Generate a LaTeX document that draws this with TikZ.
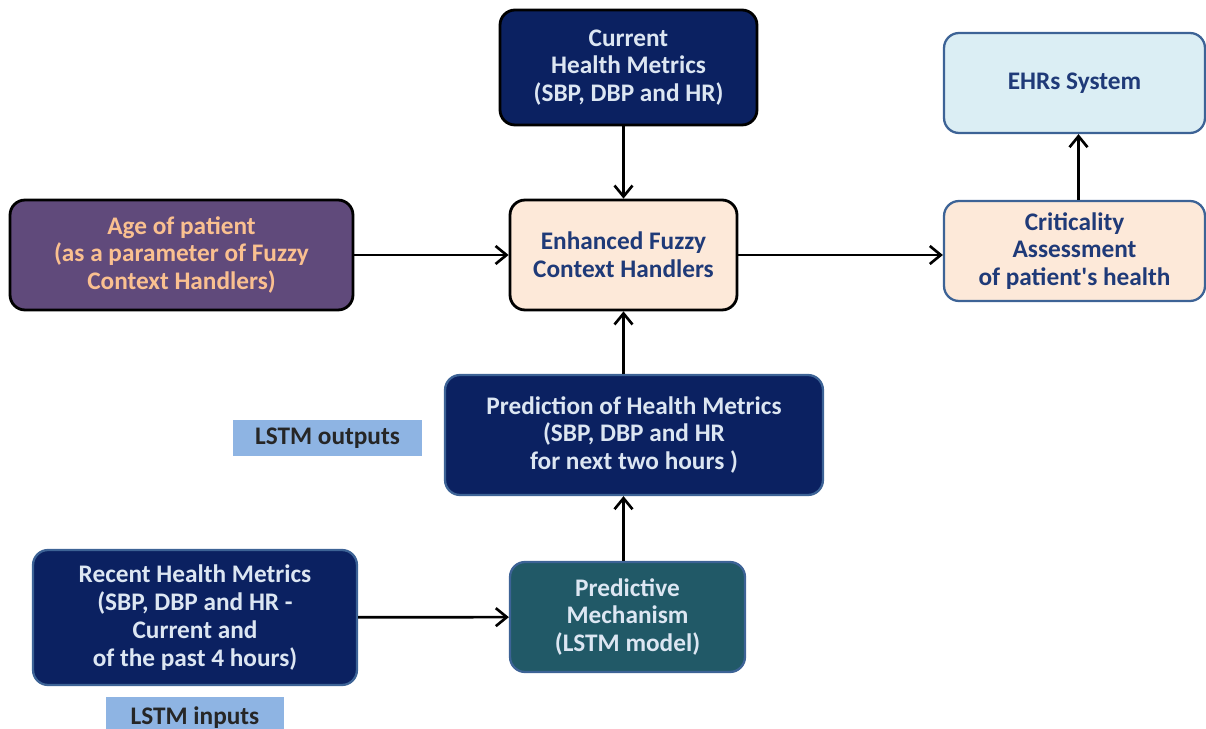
\documentclass[tikz,border=0pt]{standalone}
\usepackage{fontspec}
\setmainfont{Carlito}
\usepackage{tikz}
\usetikzlibrary{arrows.meta,positioning}
\definecolor{navybox}{HTML}{0B2161}
\definecolor{navytext}{HTML}{DCE6F2}
\definecolor{purplebox}{HTML}{604A7B}
\definecolor{peachtext}{HTML}{FAC090}
\definecolor{peachbox}{HTML}{FDE9D9}
\definecolor{darktext}{HTML}{1F3A78}
\definecolor{ehrbox}{HTML}{DBEEF4}
\definecolor{blueline}{HTML}{3D6396}
\definecolor{tealbox}{HTML}{215967}
\definecolor{lstmfill}{HTML}{8EB4E3}

\tikzset{
  box/.style={rectangle, rounded corners=0.3cm, align=center, font=\fontsize{14.4}{15.8}\selectfont\bfseries, inner sep=2pt},
  darkbox/.style={box, draw=black, line width=1.6pt},
  bluebox/.style={box, draw=blueline, line width=1.3pt},
  lstmtag/.style={rectangle, fill=lstmfill, font=\fontsize{14.4}{15.8}\selectfont\bfseries, text=black!85},
  flow/.style={-{Straight Barb[length=2.2mm,width=3.6mm]}, line width=1.5pt, black}
}

\begin{document}
\begin{tikzpicture}[x=0.02cm, y=-0.02cm]
	\useasboundingbox (0,0) rectangle (1206,729);
	% top row
	\node[darkbox, fill=navybox, text=navytext, minimum width=5.14cm, minimum height=2.30cm] (cur) at (628.5,67.5) {Current\\Health Metrics\\(SBP, DBP and HR)};
	\node[bluebox, fill=ehrbox, text=darktext, minimum width=5.22cm, minimum height=2.00cm] (ehr) at (1074.5,83) {EHRs System};
	% middle row
	\node[darkbox, fill=purplebox, text=peachtext, minimum width=6.86cm, minimum height=2.20cm] (age) at (181.5,255) {Age of patient\\(as a parameter of Fuzzy\\Context Handlers)};
	\node[darkbox, fill=peachbox, text=darktext, minimum width=4.54cm, minimum height=2.20cm] (fuzzy) at (623.5,255) {Enhanced Fuzzy\\Context Handlers};
	\node[bluebox, fill=peachbox, text=darktext, minimum width=5.22cm, minimum height=2.00cm] (crit) at (1074.5,251) {Criticality\\Assessment\\of patient\textquotesingle s health};
	% LSTM part
	\node[bluebox, fill=navybox, text=navytext, minimum width=7.56cm, minimum height=2.40cm] (pred) at (634,435) {Prediction of Health Metrics\\(SBP, DBP and HR\\for next two hours )};
	\node[lstmtag, minimum width=3.78cm, minimum height=0.72cm] (lstmout) at (327.5,438) {LSTM outputs};
	\node[bluebox, fill=navybox, text=navytext, minimum width=6.48cm, minimum height=2.70cm] (recent) at (195,617.5) {Recent Health Metrics\\(SBP, DBP and HR -\\Current and\\of the past 4 hours)};
	\node[bluebox, fill=tealbox, text=navytext, minimum width=4.70cm, minimum height=2.20cm] (predm) at (627.5,617) {Predictive\\Mechanism\\(LSTM model)};
	\node[lstmtag, minimum width=3.56cm, minimum height=0.80cm, below=0.22cm of recent] (lstmin) {LSTM inputs};

	\draw[flow] (cur.south -| fuzzy.north) -- (fuzzy.north);
	\draw[flow] (age) -- (fuzzy);
	\draw[flow] (fuzzy.east) -- (fuzzy.east -| crit.west);
	\draw[flow] (crit.north) ++(4,0) -- ([xshift=0.08cm] ehr.south);
	\draw[flow] (pred.north -| fuzzy.south) -- (fuzzy.south);
	\draw[flow] (predm.north -| fuzzy.south) -- (pred.south -| fuzzy.south);
	\draw[flow] (recent) -- (predm);
\end{tikzpicture}
\end{document}
